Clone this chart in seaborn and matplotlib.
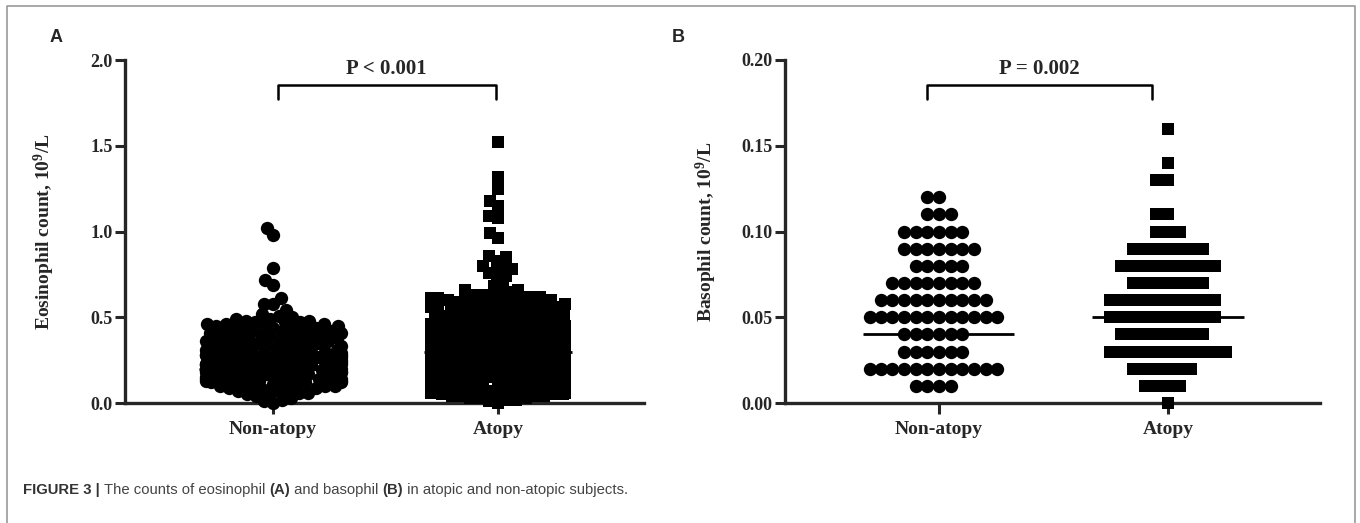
import warnings

import matplotlib
matplotlib.use("Agg")
import matplotlib.pyplot as plt
import numpy as np
import pandas as pd
import seaborn as sns
from matplotlib.lines import Line2D
from matplotlib.markers import MarkerStyle

warnings.filterwarnings("ignore")

CATEGORIES = ["Non-atopy", "Atopy"]

# Panel A: eosinophil counts. The dense part is given as number of subjects per
# 0.01 step starting at 0.00, the sparse high values are listed one by one.
EOS_STEP = 0.01
eos_nonatopy_counts = [1, 1, 1, 1, 1, 2, 2, 2, 2, 3,
                       3, 3, 4, 4, 4, 4, 4, 4, 4, 4,
                       4, 4, 4, 4, 4, 4, 4, 4, 4, 4,
                       4, 3, 3, 3, 3, 3, 3, 3, 3, 3,
                       3, 3, 3, 3, 3, 3, 3, 3, 2, 2, 1]
eos_nonatopy_high = [0.51, 0.52, 0.54, 0.58, 0.58, 0.61, 0.69, 0.72, 0.79, 0.98, 1.02]
eos_atopy_counts = [1, 1, 2, 3, 4, 4, 4, 4, 4, 4,
                    4, 4, 4, 4, 4, 4, 4, 4, 4, 4,
                    4, 4, 4, 4, 4, 4, 4, 4, 4, 4,
                    4, 4, 4, 4, 4, 4, 4, 4, 4, 4,
                    4, 4, 4, 4, 4, 4, 3, 3, 3, 3,
                    3, 3, 3, 3, 3, 3, 3, 3, 3, 3,
                    3, 3, 3, 2, 1, 1]
eos_atopy_high = [0.66, 0.66, 0.68, 0.69, 0.73, 0.74, 0.76, 0.78, 0.78, 0.80, 0.83,
                  0.85, 0.86, 0.96, 0.99, 1.08, 1.09, 1.15, 1.18, 1.25, 1.32, 1.52]
eos_medians = [0.20, 0.30]
eos_pvalue = "P < 0.001"

# Panel B: basophil counts, values are on a 0.01 grid
baso_values = [0.00, 0.01, 0.02, 0.03, 0.04, 0.05, 0.06, 0.07, 0.08,
               0.09, 0.10, 0.11, 0.12, 0.13, 0.14, 0.15, 0.16]
baso_nonatopy_counts = [0, 4, 12, 6, 6, 12, 10, 8, 5, 7, 6, 3, 2, 0, 0, 0, 0]
baso_atopy_counts = [1, 4, 6, 11, 8, 10, 10, 7, 9, 7, 3, 2, 0, 2, 1, 0, 1]
baso_medians = [0.04, 0.05]
baso_pvalue = "P = 0.002"

CAPTION = [("FIGURE 3 | ", "bold"), ("The counts of eosinophil ", "normal"), ("(A)", "bold"),
           (" and basophil ", "normal"), ("(B)", "bold"),
           (" in atopic and non-atopic subjects.", "normal")]

SERIF = "Liberation Serif"
# seaborn makes a swarm 0.8 x the smallest gap between positions wide; an empty
# helper position at 1.75 makes that gap 0.75, i.e. a swarm 0.6 wide
HELPER_POS = 1.75


def expand_counts(counts, step):
    values = np.round(np.arange(len(counts)) * step, 2)
    return np.repeat(values, counts)


def long_frame(groups):
    parts = [pd.DataFrame({"pos": float(i), "value": vals}) for i, vals in enumerate(groups)]
    parts.append(pd.DataFrame({"pos": [HELPER_POS], "value": [-10.0]}))
    return pd.concat(parts, ignore_index=True)


eos_df = long_frame([
    np.concatenate([expand_counts(eos_nonatopy_counts, EOS_STEP), eos_nonatopy_high]),
    np.concatenate([expand_counts(eos_atopy_counts, EOS_STEP), eos_atopy_high]),
])
baso_df = long_frame([
    np.repeat(baso_values, baso_nonatopy_counts),
    np.repeat(baso_values, baso_atopy_counts),
])

square = MarkerStyle("s")
square_path = square.get_path().transformed(square.get_transform())


def draw_panel(ax, df, medians, ticks, tick_fmt, ylabel, ptext, bracket, xlim, label_x,
               layout_size, draw_sizes):
    sns.swarmplot(data=df, x="pos", y="value", native_scale=True, color="black",
                  size=layout_size, linewidth=0, ax=ax, zorder=3)
    swarms = list(ax.collections[:2])
    ax.collections[2].remove()
    # second group (atopy) is drawn with squares
    swarms[1].set_paths([square_path])
    for coll in swarms:
        coll.set_clip_on(False)

    pos = np.arange(len(CATEGORIES))
    ax.hlines(medians, pos - 0.33, pos + 0.33, color="black", lw=2, zorder=2)

    top = ticks[-1]
    ax.set_ylim(0, top)
    ax.set_xlim(*xlim)
    ax.set_yticks(ticks)
    ax.set_yticklabels([tick_fmt.format(t) for t in ticks], fontsize=13,
                       fontweight="bold", family=SERIF)
    ax.set_xticks(pos)
    ax.set_xticklabels(CATEGORIES, fontsize=14, fontweight="bold", family=SERIF)
    ax.set_xlabel("")
    ax.set_ylabel(ylabel, fontsize=14, fontweight="bold", family=SERIF)
    ax.yaxis.set_label_coords(label_x, 0.5)

    sns.despine(ax=ax)
    for side in ("left", "bottom"):
        ax.spines[side].set_linewidth(2.4)
    ax.tick_params(axis="y", width=2.2, length=7, pad=2)
    ax.tick_params(axis="x", width=2.2, length=8, pad=5)

    x0, x1 = bracket
    y_hi, y_lo, y_txt = 0.926 * top, 0.885 * top, 0.974 * top
    ax.plot([x0, x0, x1, x1], [y_lo, y_hi, y_hi, y_lo], color="black", lw=1.8,
            clip_on=False, zorder=4)
    ax.text((x0 + x1) / 2, y_txt, ptext, ha="center", va="center", fontsize=15,
            fontweight="bold", family=SERIF)
    return list(zip(swarms, draw_sizes))


sns.set_theme(style="ticks")
plt.rcParams["font.family"] = ["Liberation Sans", "DejaVu Sans"]
plt.rcParams["mathtext.fontset"] = "custom"
plt.rcParams["mathtext.rm"] = "Liberation Serif:bold"
plt.rcParams["mathtext.it"] = "Liberation Serif:bold"
plt.rcParams["mathtext.bf"] = "Liberation Serif:bold"

W, H = 1360, 523
fig = plt.figure(figsize=(W / 100, H / 100), dpi=100)
fig.patch.set_facecolor("white")

bottom = 1 - 403 / H
height = (403 - 60) / H
ax_a = fig.add_axes([125 / W, bottom, (644 - 125) / W, height])
ax_b = fig.add_axes([785 / W, bottom, (1320 - 785) / W, height])

swarms = draw_panel(ax_a, eos_df, eos_medians, [0.0, 0.5, 1.0, 1.5, 2.0], "{:.1f}",
                    r"Eosinophil count, 10$^{9}$/L", eos_pvalue, (0.02, 0.99),
                    (-0.658, 1.649), -0.131, 6.5, (9.6, 8.6))
swarms += draw_panel(ax_b, baso_df, baso_medians, [0.0, 0.05, 0.10, 0.15, 0.20], "{:.2f}",
                     r"Basophil count, 10$^{9}$/L", baso_pvalue, (-0.05, 0.93),
                     (-0.672, 1.664), -0.123, 8.0, (9.6, 8.4))

fig.text(50 / W, 1 - 38 / H, "A", fontsize=13, fontweight="bold", va="center")
fig.text(672 / W, 1 - 38 / H, "B", fontsize=13, fontweight="bold", va="center")

# caption, written piece by piece so that parts can be bold
renderer = fig.canvas.get_renderer()
x_px = 23
for piece, weight in CAPTION:
    t = fig.text(x_px / W, 1 - 490 / H, piece, fontsize=10.7, fontweight=weight,
                 color="#333333" if weight == "bold" else "#444444", va="center")
    x_px = t.get_window_extent(renderer).x1

# outer frame (open at the bottom)
fl, fr, ft = 7 / W, 1355 / W, 1 - 6 / H
fig.add_artist(Line2D([fl, fl, fr, fr], [0, ft, ft, 0], transform=fig.transFigure,
                      color="#9a9a9a", lw=1.2))

# lay the swarms out once, then freeze them and draw the markers a bit larger
fig.canvas.draw()
for coll, size in swarms:
    if "draw" in coll.__dict__:
        del coll.draw
    coll.set_sizes([size ** 2])

fig.savefig("out.png", dpi=100, facecolor="white")
